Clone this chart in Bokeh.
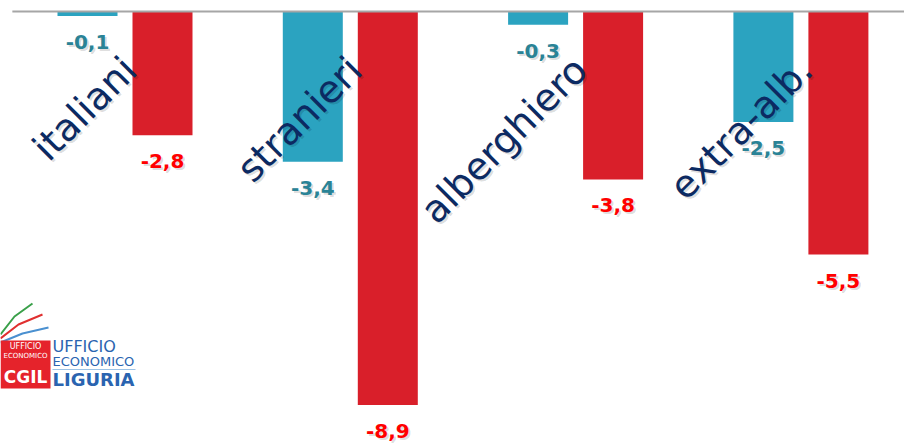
import numpy as np
from bokeh.plotting import figure
from bokeh.models import ColumnDataSource, Range1d
from bokeh.core.properties import value
from bokeh.embed import file_html
from bokeh.resources import INLINE

# ---- data ----
categories = ["italiani", "stranieri", "alberghiero", "extra-alb."]
series_a = [-0.1, -3.4, -0.3, -2.5]   # blue bars
series_b = [-2.8, -8.9, -3.8, -5.5]   # red bars

def fmt(v):
    return f"{v:.1f}".replace(".", ",")

# ---- layout constants ----
W, H = 904, 447
PX_PER_CAT = 225.3
PX_PER_UNIT = 44.2
x_start = -124.5 / PX_PER_CAT
x_end = x_start + W / PX_PER_CAT
y_end = 11 / PX_PER_UNIT
y_start = y_end - H / PX_PER_UNIT

BAR_W = 60 / PX_PER_CAT
DODGE = 37.5 / PX_PER_CAT

BLUE = "#2ba3c0"
RED = "#d91f2a"
BLUE_TXT = "#2a8396"
RED_TXT = "#ff0000"
NAVY = "#0c2a62"
SHADOW = "#000000"

p = figure(width=W, height=H, output_backend="svg", toolbar_location=None,
           x_range=Range1d(x_start, x_end), y_range=Range1d(y_start, y_end),
           x_axis_location=None, y_axis_location=None,
           min_border=0, min_border_left=0, min_border_right=0,
           min_border_top=0, min_border_bottom=0)
p.outline_line_color = None
p.xgrid.visible = False
p.ygrid.visible = False
p.background_fill_color = "white"
p.border_fill_color = "white"

xs = np.arange(len(categories))
src = ColumnDataSource(dict(
    xa=xs - DODGE, xb=xs + DODGE, x=xs,
    a=series_a, b=series_b,
    la=[fmt(v) for v in series_a], lb=[fmt(v) for v in series_b],
    cat=categories,
))

p.vbar(x="xa", top=0, bottom="a", width=BAR_W, source=src,
       fill_color=BLUE, line_color=None)
p.vbar(x="xb", top=0, bottom="b", width=BAR_W, source=src,
       fill_color=RED, line_color=None)

# zero line
p.segment(x0=[-0.5], y0=[0], x1=[x_end], y1=[0], line_color="#a6a6a6", line_width=2)

# value labels (with soft shadow)
common = dict(text_font=value("DejaVu Sans"), text_font_style="bold",
              text_font_size="20px", text_align="center", text_baseline="top")
for col, ycol, colr in (("xa", "a", BLUE_TXT), ("xb", "b", RED_TXT)):
    lab = "la" if ycol == "a" else "lb"
    p.text(x=col, y=ycol, text=lab, source=src, y_offset=21, x_offset=2,
           text_color=SHADOW, text_alpha=0.15, **common)
    p.text(x=col, y=ycol, text=lab, source=src, y_offset=19,
           text_color=colr, **common)

# rotated category labels (with soft shadow)
label_y = -(63 - 11) / PX_PER_UNIT
catstyle = dict(angle=np.pi / 4, text_align="right", text_baseline="alphabetic",
                text_font=value("DejaVu Sans"), text_font_size="38px")
p.text(x="x", y=label_y, text="cat", source=src, x_offset=7, y_offset=2,
       text_color=SHADOW, text_alpha=0.15, **catstyle)
p.text(x="x", y=label_y, text="cat", source=src, x_offset=5,
       text_color=NAVY, **catstyle)

# ---- logo (decoration, page pixel positions) ----
def X(px):
    return x_start + px / PX_PER_CAT

def Y(py):
    return y_end - py / PX_PER_UNIT

p.line([X(0), X(14), X(32)], [Y(334), Y(316), Y(303)], line_color="#3aa04a", line_width=2)
p.line([X(0), X(18), X(42)], [Y(338), Y(324), Y(314)], line_color="#e03030", line_width=2)
p.line([X(0), X(22), X(48)], [Y(342), Y(333), Y(327)], line_color="#4a90d0", line_width=2)

p.quad(left=[X(0)], right=[X(50)], top=[Y(340)], bottom=[Y(388)],
       fill_color="#e5232b", line_color=None)
p.text(x=[X(25)], y=[Y(346)], text=["UFFICIO"], text_color="white",
       text_font=value("DejaVu Sans"), text_font_size="8px",
       text_align="center", text_baseline="middle")
p.text(x=[X(25)], y=[Y(355)], text=["ECONOMICO"], text_color="white",
       text_font=value("DejaVu Sans"), text_font_size="7px",
       text_align="center", text_baseline="middle")
p.text(x=[X(25)], y=[Y(376)], text=["CGIL"], text_color="white",
       text_font=value("DejaVu Sans"), text_font_size="17px", text_font_style="bold",
       text_align="center", text_baseline="middle")

LOGO_BLUE = "#2a64b0"
p.text(x=[X(52)], y=[Y(346)], text=["UFFICIO"], text_color=LOGO_BLUE,
       text_font=value("DejaVu Sans"), text_font_size="16px",
       text_align="left", text_baseline="middle")
p.text(x=[X(52)], y=[Y(361)], text=["ECONOMICO"], text_color=LOGO_BLUE,
       text_font=value("DejaVu Sans"), text_font_size="13px",
       text_align="left", text_baseline="middle")
p.segment(x0=[X(52)], y0=[Y(369)], x1=[X(135)], y1=[Y(369)],
          line_color="#9cc3e6", line_width=1)
p.text(x=[X(52)], y=[Y(379)], text=["LIGURIA"], text_color=LOGO_BLUE,
       text_font=value("DejaVu Sans"), text_font_size="18px", text_font_style="bold",
       text_align="left", text_baseline="middle")

open("out.html", "w").write(file_html(p, INLINE))
